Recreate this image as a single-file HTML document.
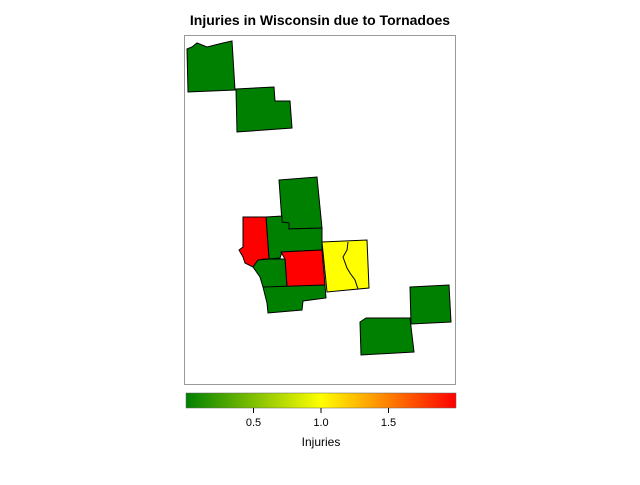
<!DOCTYPE html>
<html><head><meta charset="utf-8"><style>
body{margin:0;background:#fff;width:640px;height:480px;overflow:hidden;font-family:"Liberation Sans",Arial,sans-serif}
</style></head><body>
<svg id="chart" width="640" height="480" xmlns="http://www.w3.org/2000/svg">
<defs><linearGradient id="grad" x1="0" x2="1" y1="0" y2="0">
<stop offset="0" stop-color="#008000"/><stop offset="0.5" stop-color="#ffff00"/><stop offset="1" stop-color="#ff0000"/></linearGradient></defs>
<text x="320" y="25" text-anchor="middle" font-size="14" font-weight="bold">Injuries in Wisconsin due to Tornadoes</text>
<rect x="184.5" y="35.5" width="271" height="349" fill="none" stroke="#999"/>
<g id="counties"></g>
<rect x="186" y="393" width="270" height="15" fill="url(#grad)" stroke="#666" stroke-width="0.5"/>
<g id="ticks"></g>
<text x="321" y="446" text-anchor="middle" font-size="12">Injuries</text>
</svg>
<script>
const countyNames=["nw-county","n-county-2","north-county","mid-county","west-county","center-county","sw-county","south-county","east-county","ne-county","se-county"];
const injuries=[0,0,0,0,2,2,0,0,1,0,0];
const tickValues=[0.5,1.0,1.5];
const tickLabels=["0.5","1.0","1.5"];
const shapes=[
"187,49 192,47 197,43 207,47 223,43 232,41 235,90 188,92",
"236,89 274,87 275,101 290,101 292,128 237,132",
"279,180 317,177 322,228 289,229 289,223 282,222",
"266,217 282,216 282,222 289,223 289,229 322,228 322,250 282,252 280,258 269,259",
"243,217 266,217 269,259 263,259 258,262 253,267 245,263 243,257 239,250 243,247",
"281,252 322,250 325,285 287,287 285,259",
"258,260 269,259 285,259 287,287 263,287 260,277 253,267",
"263,287 325,285 326,298 303,301 302,310 268,313 267,303 265,295",
"322,242 367,240 369,288 327,292",
"410,287 449,285 451,322 411,324",
"360,322 366,318 410,318 414,352 361,355"];
const vmin=0,vmax=2,x0=186,x1=456;
function xScale(v){return x0+(v-vmin)/(vmax-vmin)*(x1-x0);}
function lerp(a,b,t){return Math.round(a+(b-a)*t);}
function color(v){const t=(v-vmin)/(vmax-vmin);
 if(t<=0.5){const u=t/0.5;return `rgb(${lerp(0,255,u)},${lerp(128,255,u)},0)`;}
 const u=(t-0.5)/0.5;return `rgb(255,${lerp(255,0,u)},0)`;}
const NS="http://www.w3.org/2000/svg";
const g=document.getElementById("counties");
injuries.forEach((v,i)=>{const p=document.createElementNS(NS,"polygon");
 p.setAttribute("points",shapes[i]);p.setAttribute("fill",color(v));
 p.setAttribute("stroke","#000");p.setAttribute("stroke-width","1");
 
 
 g.appendChild(p);});
const l=document.createElementNS(NS,"polyline");
l.setAttribute("points","348,242 347,250 343,257 347,268 350,273 355,280 358,289");
l.setAttribute("fill","none");l.setAttribute("stroke","#000");


g.appendChild(l);
const tg=document.getElementById("ticks");
tickValues.forEach((v,i)=>{const x=xScale(v);
 const ln=document.createElementNS(NS,"line");
 ln.setAttribute("x1",x);ln.setAttribute("x2",x);ln.setAttribute("y1",408);ln.setAttribute("y2",413);ln.setAttribute("stroke","#000");
 
 
 tg.appendChild(ln);
 const t=document.createElementNS(NS,"text");
 t.setAttribute("x",x);t.setAttribute("y",426);t.setAttribute("text-anchor","middle");t.setAttribute("font-size","11");
 t.textContent=tickLabels[i];
 
 
 tg.appendChild(t);});
</script>
</body></html>
